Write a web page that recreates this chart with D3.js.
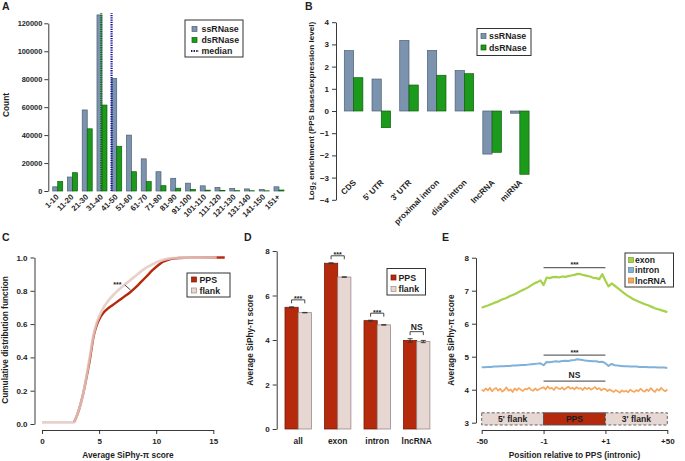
<!DOCTYPE html>
<html><head><meta charset="utf-8">
<script src="https://cdn.jsdelivr.net/npm/d3@7"></script>
<style>
html,body{margin:0;padding:0;background:#fff;}
svg{display:block;}
</style></head><body>
<svg id="fig" width="685" height="461"></svg>
<script>
// ================= DATA =================
// Panel A
const binLabels = ["1-10","11-20","21-30","31-40","41-50","51-60","61-70","71-80","81-90","91-100","101-110","111-120","121-130","131-140","141-150","151+"];
const ssCounts = [3000,10000,58000,126000,80500,40000,23000,13800,9100,5600,3700,2600,1900,1500,1100,3000];
const dsCounts = [6800,13100,44500,61500,32000,13800,6700,3800,2000,1100,600,400,250,200,150,700];
const countTicks = [0,20000,40000,60000,80000,100000,120000];
const seriesAB = ["ssRNase","dsRNase"];
const medianNames = ["dsRNase","ssRNase"];
const medianLengths = [35,42];
// Panel B
const regionCats = ["CDS","5' UTR","3' UTR","proximal intron","distal intron","lncRNA","miRNA"];
const ssEnrich = [2.72,1.44,3.18,2.73,1.82,-1.94,-0.10];
const dsEnrich = [1.50,-0.75,1.17,1.61,1.68,-1.86,-2.85];
const enrichTicks = [-4,-3,-2,-1,0,1,2,3,4];
// Panel C
const ppsScore = [2.8,3.0,3.3,3.6,3.9,4.2,4.5,4.8,5.1,5.4,5.8,6.2,6.7,7.2,7.7,8.2,8.7,9.2,9.7,10.2,10.6,11.0,11.5,12,13,16];
const ppsCdf   = [0.01,0.04,0.10,0.18,0.28,0.39,0.52,0.595,0.64,0.67,0.695,0.715,0.74,0.765,0.79,0.82,0.855,0.89,0.925,0.955,0.975,0.985,0.993,0.997,0.999,1.0];
const flankScore = [0,2.8,3.0,3.3,3.6,3.9,4.2,4.5,4.8,5.1,5.4,5.8,6.2,6.7,7.2,7.7,8.2,8.7,9.2,9.7,10.2,10.6,11.0,11.5,12,13,15.3];
const flankCdf   = [0.01,0.01,0.04,0.10,0.18,0.29,0.41,0.53,0.61,0.66,0.70,0.74,0.772,0.805,0.835,0.862,0.89,0.918,0.942,0.96,0.976,0.986,0.992,0.996,0.998,0.999,1.0];
const cdfTicks = [0,0.2,0.4,0.6,0.8,1.0];
const scoreTicks = [0,5,10,15];
const cSig = ["***"];
// Panel D
const dCats = ["all","exon","intron","lncRNA"];
const ppsMean   = [5.47,7.45,4.87,3.98];
const flankMean = [5.23,6.83,4.68,3.93];
const ppsErr    = [0.02,0.02,0.02,0.08];
const flankErr  = [0.01,0.01,0.01,0.05];
const dSig = ["***","***","***","NS"];
const dTicks = [0,2,4,6,8];
const seriesPF = ["PPS","flank"];
// Panel E
const posLabels = ["-50","-1","+1","+50"];
const exonProfile = [6.48,6.52,6.55,6.59,6.63,6.66,6.71,6.75,6.78,6.83,6.87,6.91,6.96,7.01,7.05,7.10,7.16,7.22,7.26,7.31,
  7.17,7.40,7.38,7.41,7.42,7.40,7.43,7.42,7.44,7.46,7.48,7.51,7.50,7.47,7.45,7.43,7.39,7.38,7.35,7.50,
  7.30,7.13,7.22,7.15,7.08,7.00,6.93,6.86,6.80,6.74,6.70,6.66,6.62,6.58,6.55,6.51,6.47,6.44,6.41,6.38,6.35];
const intronProfile = [4.68,4.68,4.69,4.69,4.70,4.70,4.71,4.71,4.72,4.72,4.73,4.73,4.74,4.75,4.75,4.76,4.77,4.78,4.79,4.80,
  4.74,4.84,4.83,4.85,4.86,4.85,4.87,4.88,4.87,4.89,4.90,4.92,4.91,4.89,4.88,4.87,4.86,4.86,4.84,4.85,
  4.80,4.72,4.78,4.74,4.73,4.72,4.71,4.71,4.70,4.70,4.70,4.69,4.69,4.69,4.68,4.68,4.68,4.67,4.67,4.67,4.66];
const lncProfile = [4.00,3.96,4.04,3.98,4.06,3.95,4.02,4.05,3.97,4.03,3.94,3.99,4.07,3.97,4.01,3.93,4.04,3.98,4.05,4.00,3.96,4.03,4.01,4.06,3.99,3.97,4.04,3.98,4.02,4.05,
  4.07,4.01,4.10,4.03,4.06,3.99,4.08,4.04,4.02,4.07,4.00,4.05,4.09,4.03,4.06,4.01,4.08,4.03,4.05,3.99,4.07,4.02,4.06,4.00,4.04,4.08,4.01,4.05,3.98,4.03,
  4.02,3.96,4.01,3.97,3.93,3.99,3.95,3.91,3.98,3.94,3.97,3.92,4.00,3.96,3.93,3.99,3.95,4.03,3.97,3.94,4.01,3.96,4.05,3.98,3.93,4.02,3.97,4.06,3.99,3.95,4.01];
const profileNames = ["exon","intron","lncRNA"];
const profileSig = ["***","***","NS"];
const profileSigLevel = [7.7,5.05,4.26];
const regionNames = ["5' flank","PPS","3' flank"];
const eTicks = [3,4,5,6,7,8];

// ================= STYLE =================
const FONT = '"Liberation Sans", Arial, Helvetica, sans-serif';
const TXT = "#1e1e1e";
const colSS = "#7b93ae", colSSs = "#4d5f75";
const colDS = "#1c9a1c", colDSs = "#0d5e0d";
const colPPS = "#b5290c", colPPSs = "#7a1a06";
const colFL = "#e7d7d3", colFLs = "#9a8a88";
const profileColors = ["#a6d24a","#7fb1da","#f6a75d"];

const svg = d3.select("#fig").attr("font-family", FONT).attr("font-weight","bold");
svg.append("rect").attr("width",685).attr("height",461).attr("fill","#fff");

function styleAxis(g, fs){
  g.attr("font-family", FONT).attr("font-size", fs).attr("font-weight","bold");
  g.select(".domain").attr("stroke","#222").attr("stroke-width",0.9);
  g.selectAll(".tick line").attr("stroke","#222").attr("stroke-width",0.9);
  g.selectAll(".tick text").attr("fill",TXT);
}
function txt(g, x, y, s, fs, anchor, rot){
  const t = g.append("text").attr("x",x).attr("y",y).attr("font-size",fs).attr("fill",TXT)
    .attr("text-anchor",anchor||"middle").text(s);
  if (rot) t.attr("transform",`rotate(${rot},${x},${y})`);
  return t;
}
function legend(g, x, y, w, h, items, rowYs, sx, tx, fs){
  g.append("rect").attr("x",x).attr("y",y).attr("width",w).attr("height",h)
    .attr("fill","#fff").attr("stroke","#333").attr("stroke-width",1);
  items.forEach((it,i)=>{
    if (it.kind === "dots") {
      g.append("line").attr("x1",sx-1).attr("x2",sx+7).attr("y1",rowYs[i]).attr("y2",rowYs[i])
        .attr("stroke",it.color).attr("stroke-width",2).attr("stroke-dasharray","1.4,1.2");
    } else {
      g.append("rect").attr("x",sx).attr("y",rowYs[i]-2.5).attr("width",5).attr("height",5)
        .attr("fill",it.color).attr("stroke",it.stroke).attr("stroke-width",0.7);
    }
    txt(g, tx, rowYs[i]+3.2, it.label, fs, "start");
  });
}

// ================= PANEL A =================
const gA = svg.append("g");
const xA = d3.scaleBand().domain(binLabels).range([48.3,288.4]).paddingInner(0.322).paddingOuter(0.3);
const subA = d3.scaleBand().domain(seriesAB).range([0,xA.bandwidth()]);
const yA = d3.scaleLinear().domain([0,120000]).range([191,23.3]);
const abData = binLabels.flatMap((b,i)=>[
  {b, s:"ssRNase", v:ssCounts[i], f:colSS, st:colSSs},
  {b, s:"dsRNase", v:dsCounts[i], f:colDS, st:colDSs}]);
gA.selectAll("rect.bar").data(abData).join("rect").attr("class","bar")
  .attr("x",d=>xA(d.b)+subA(d.s)).attr("y",d=>yA(d.v))
  .attr("width",subA.bandwidth()).attr("height",d=>yA(0)-yA(d.v))
  .attr("fill",d=>d.f).attr("stroke",d=>d.st).attr("stroke-width",0.7);
const lenX = L => xA(binLabels[0]) + xA.bandwidth()/2 + (L-5.5)/10*xA.step();
const medColors = ["#0f6f0f","#14149a"];
medianLengths.forEach((L,i)=>{
  gA.append("line").attr("x1",lenX(L)).attr("x2",lenX(L)).attr("y1",yA(0)).attr("y2",yA(127200))
    .attr("stroke",medColors[i]).attr("stroke-width",2.2).attr("stroke-dasharray","1.3,1");
});
const axA = gA.append("g").attr("transform","translate(48.3,0)")
  .call(d3.axisLeft(yA).tickValues(countTicks).tickSize(4).tickSizeOuter(0).tickPadding(2).tickFormat(d3.format("d")));
styleAxis(axA, 7.4);
binLabels.forEach(b=>{
  const cx = xA(b)+xA.bandwidth()/2+1.5, cy = 197.5;
  txt(gA, cx, cy, b, 7.8, "end", -45);
});
txt(gA, 9, 105, "Count", 8.4, "middle", -90);
txt(gA, 2, 10, "A", 10.5, "start");
legend(gA, 185, 20, 58, 37, [
  {label:"ssRNase", color:colSS, stroke:colSSs},
  {label:"dsRNase", color:colDS, stroke:colDSs},
  {label:"median", color:"#1a1a60", kind:"dots"}], [29,40,51], 192, 201.5, 8.8);

// ================= PANEL B =================
const gB = svg.append("g");
const xB = d3.scaleBand().domain(regionCats).range([336,537.4]).paddingInner(0.33).paddingOuter(0.3);
const subB = d3.scaleBand().domain(seriesAB).range([0,xB.bandwidth()]);
const yB = d3.scaleLinear().domain([-4,4]).range([199.8,22.2]);
const bData = regionCats.flatMap((c,i)=>[
  {c, s:"ssRNase", v:ssEnrich[i], f:colSS, st:colSSs},
  {c, s:"dsRNase", v:dsEnrich[i], f:colDS, st:colDSs}]);
gB.selectAll("rect.bar").data(bData).join("rect").attr("class","bar")
  .attr("x",d=>xB(d.c)+subB(d.s)).attr("y",d=>yB(Math.max(0,d.v)))
  .attr("width",subB.bandwidth()).attr("height",d=>Math.abs(yB(d.v)-yB(0)))
  .attr("fill",d=>d.f).attr("stroke",d=>d.st).attr("stroke-width",0.7);
const axB = gB.append("g").attr("transform","translate(336,0)")
  .call(d3.axisLeft(yB).tickValues(enrichTicks).tickSize(4).tickSizeOuter(0).tickPadding(3).tickFormat(d3.format("d")));
styleAxis(axB, 8);
regionCats.forEach(c=>{
  txt(gB, xB(c)+xB.bandwidth()/2+3, 183, c, 8.2, "end", -45);
});
{
  const t = gB.append("text").attr("font-size",8.1).attr("fill",TXT).attr("text-anchor","middle")
    .attr("transform","translate(314,111) rotate(-90)");
  t.append("tspan").text("Log");
  t.append("tspan").attr("font-size",5.8).attr("dy",2).text("2");
  t.append("tspan").attr("dy",-2).text(" enrichment (PPS bases/expression level)");
}
txt(gB, 305, 10, "B", 10.5, "start");
legend(gB, 477, 28.5, 54, 27, [
  {label:"ssRNase", color:colSS, stroke:colSSs},
  {label:"dsRNase", color:colDS, stroke:colDSs}], [36,47.5], 481, 489, 8.8);

// ================= PANEL C =================
const gC = svg.append("g");
const xC = d3.scaleLinear().domain([0,15]).range([42,213.3]);
const yC = d3.scaleLinear().domain([0,1]).range([424,257.5]);
const axCy = gC.append("g").attr("transform","translate(34.5,0)")
  .call(d3.axisLeft(yC).tickValues(cdfTicks).tickSize(4).tickSizeOuter(0).tickPadding(3).tickFormat(d3.format(".1f")));
styleAxis(axCy, 8);
const axCx = gC.append("g").attr("transform","translate(0,430)")
  .call(d3.axisBottom(xC).tickValues(scoreTicks).tickSize(4).tickSizeOuter(0).tickPadding(4).tickFormat(d3.format("d")));
styleAxis(axCx, 8);
const lineC = d3.line().curve(d3.curveMonotoneX).x(d=>xC(d[0])).y(d=>yC(d[1]));
gC.append("path").attr("d", lineC(ppsScore.map((s,i)=>[s,ppsCdf[i]])))
  .attr("fill","none").attr("stroke",colPPS).attr("stroke-width",2.4);
gC.append("path").attr("d", lineC(flankScore.map((s,i)=>[s,flankCdf[i]])))
  .attr("fill","none").attr("stroke","#e4c9c4").attr("stroke-width",2.7).attr("stroke-opacity",0.85);
gC.append("line").attr("x1",xC(7.25)).attr("y1",yC(0.835)).attr("x2",xC(7.75)).attr("y2",yC(0.805))
  .attr("stroke","#333").attr("stroke-width",0.9);
txt(gC, xC(6.6), yC(0.835)+2, cSig[0], 7, "middle");
txt(gC, 128, 458, "Average SiPhy-\u03c0 score", 8.3, "middle");
txt(gC, 8, 340, "Cumulative distribution function", 8.3, "middle", -90);
txt(gC, 2, 241, "C", 10.5, "start");
legend(gC, 187, 273, 43, 24, [
  {label:"PPS", color:colPPS, stroke:colPPSs},
  {label:"flank", color:colFL, stroke:colFLs}], [279.5,290.5], 191.5, 199.5, 8.8);

// ================= PANEL D =================
const gD = svg.append("g");
const xD = d3.scaleBand().domain(dCats).range([276.7,438.2]).paddingInner(0.332).paddingOuter(0.21);
const subD = d3.scaleBand().domain(seriesPF).range([0,xD.bandwidth()]);
const yD = d3.scaleLinear().domain([0,8]).range([429,251]);
const dData = dCats.flatMap((c,i)=>[
  {c, s:"PPS", v:ppsMean[i], e:ppsErr[i], f:colPPS, st:colPPSs},
  {c, s:"flank", v:flankMean[i], e:flankErr[i], f:colFL, st:colFLs}]);
gD.selectAll("rect.bar").data(dData).join("rect").attr("class","bar")
  .attr("x",d=>xD(d.c)+subD(d.s)).attr("y",d=>yD(d.v))
  .attr("width",subD.bandwidth()).attr("height",d=>yD(0)-yD(d.v))
  .attr("fill",d=>d.f).attr("stroke",d=>d.st).attr("stroke-width",0.8);
dData.forEach(d=>{
  const cx = xD(d.c)+subD(d.s)+subD.bandwidth()/2;
  gD.append("line").attr("x1",cx).attr("x2",cx).attr("y1",yD(d.v-d.e)).attr("y2",yD(d.v+d.e))
    .attr("stroke","#333").attr("stroke-width",0.9);
  gD.append("line").attr("x1",cx-2.5).attr("x2",cx+2.5).attr("y1",yD(d.v+d.e)).attr("y2",yD(d.v+d.e))
    .attr("stroke","#333").attr("stroke-width",0.9);
  gD.append("line").attr("x1",cx-2.5).attr("x2",cx+2.5).attr("y1",yD(d.v-d.e)).attr("y2",yD(d.v-d.e))
    .attr("stroke","#333").attr("stroke-width",0.9);
});
dCats.forEach((c,i)=>{
  const x1 = xD(c)+subD("PPS")+subD.bandwidth()/2, x2 = xD(c)+subD("flank")+subD.bandwidth()/2;
  const top = yD(Math.max(ppsMean[i]+ppsErr[i], flankMean[i]+flankErr[i])) - 7;
  gD.append("path").attr("d",`M${x1},${top+3.5}V${top}H${x2}V${top+3.5}`)
    .attr("fill","none").attr("stroke","#333").attr("stroke-width",0.9);
  if (dSig[i]==="NS") txt(gD, (x1+x2)/2, top-1.5, dSig[i], 8.5, "middle");
  else txt(gD, (x1+x2)/2, top+1.5, dSig[i], 7, "middle");
});
const axD = gD.append("g").attr("transform","translate(276.7,0)")
  .call(d3.axisLeft(yD).tickValues(dTicks).tickSize(4).tickSizeOuter(0).tickPadding(3).tickFormat(d3.format("d")));
styleAxis(axD, 8);
dCats.forEach(c=>txt(gD, xD(c)+xD.bandwidth()/2, 444, c, 8.4, "middle"));
txt(gD, 253, 340, "Average SiPhy-\u03c0 score", 8.3, "middle", -90);
txt(gD, 244, 241, "D", 10.5, "start");
legend(gD, 387, 268.5, 38.5, 26.5, [
  {label:"PPS", color:colPPS, stroke:colPPSs},
  {label:"flank", color:colFL, stroke:colFLs}], [277.5,289], 391, 398.5, 8.8);

// ================= PANEL E =================
const gE = svg.append("g");
const xE = d3.scaleLinear().domain([0,3]).range([481.7,667.3]);
const yE = d3.scaleLinear().domain([3,8]).range([422.7,257.7]);
const axEy = gE.append("g").attr("transform","translate(476,0)")
  .call(d3.axisLeft(yE).tickValues(eTicks).tickSize(4).tickSizeOuter(0).tickPadding(3).tickFormat(d3.format("d")));
styleAxis(axEy, 8);
const axEx = gE.append("g").attr("transform","translate(0,430)")
  .call(d3.axisBottom(xE).tickValues([0,1,2,3]).tickSize(4).tickSizeOuter(0).tickPadding(4).tickFormat((d,i)=>posLabels[i]));
styleAxis(axEx, 8);
const regionBounds = [[0,1],[1,2],[2,3]];
regionNames.forEach((r,i)=>{
  const [a,b] = regionBounds[i];
  gE.append("rect").attr("x",xE(a)).attr("y",yE(3.3)).attr("width",xE(b)-xE(a)).attr("height",yE(2.93)-yE(3.3))
    .attr("fill", r==="PPS" ? colPPS : colFL)
    .attr("stroke","#555").attr("stroke-width",0.9).attr("stroke-dasharray", r==="PPS" ? null : "3,2");
  txt(gE, (xE(a)+xE(b))/2, (yE(3.3)+yE(2.93))/2+3.2, r, 8.6, "middle");
});
const profiles = [exonProfile, intronProfile, lncProfile];
const lineE = d3.line().x(d=>xE(d[0])).y(d=>yE(d[1]));
const widthsE = [2.2,2.0,1.7];
profiles.forEach((p,k)=>{
  const pts = p.map((v,i)=>[i/(p.length-1)*3, v]);
  gE.append("path").attr("d",lineE(pts)).attr("fill","none")
    .attr("stroke",profileColors[k]).attr("stroke-width",widthsE[k]).attr("stroke-linejoin","round");
});
profileSigLevel.forEach((lv,k)=>{
  gE.append("line").attr("x1",xE(1)).attr("x2",xE(2)).attr("y1",yE(lv)).attr("y2",yE(lv))
    .attr("stroke","#666").attr("stroke-width",1.3);
  if (profileSig[k]==="NS") txt(gE, xE(1.5), yE(lv)-3, profileSig[k], 8.5, "middle");
  else txt(gE, xE(1.5), yE(lv)-0.5, profileSig[k], 7, "middle");
});
txt(gE, 574.5, 458, "Position relative to PPS (intronic)", 8.3, "middle");
txt(gE, 454, 340, "Average SiPhy-\u03c0 score", 8.3, "middle", -90);
txt(gE, 442, 241, "E", 10.5, "start");
legend(gE, 625, 253, 48.5, 34, profileNames.map((n,k)=>({label:n, color:profileColors[k], stroke:d3.color(profileColors[k]).darker(0.8)})),
  [260,270,280.5], 628.5, 635, 8.6);
</script>
</body></html>
